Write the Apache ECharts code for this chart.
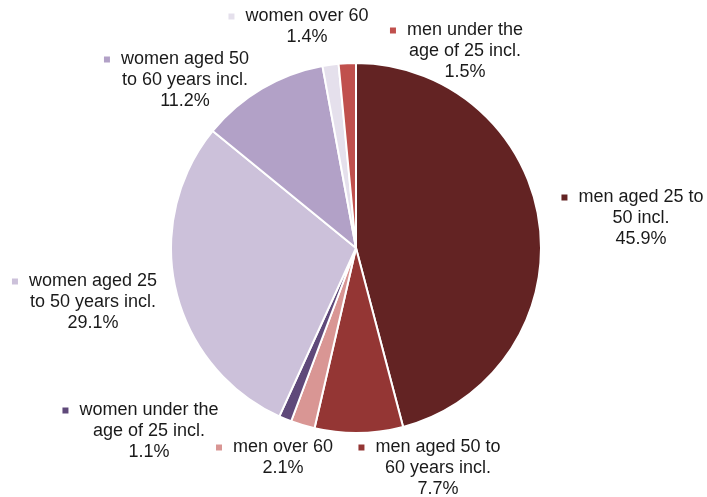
<!DOCTYPE html>
<html><head><meta charset="utf-8">
<script src="https://cdn.jsdelivr.net/npm/echarts@6/dist/echarts.min.js"></script>
<style>html,body{margin:0;padding:0;background:#fff}#c{width:707px;height:497px}</style>
</head><body><div id="c"></div>
<script>
const categories = [
  ["men aged 25 to", "50 incl."],
  ["men aged 50 to", "60 years incl."],
  ["men over 60"],
  ["women under the", "age of 25 incl."],
  ["women aged 25", "to 50 years incl."],
  ["women aged 50", "to 60 years incl."],
  ["women over 60"],
  ["men under the", "age of 25 incl."]
];
const values = [45.9, 7.7, 2.1, 1.1, 29.1, 11.2, 1.4, 1.5];
const colors = ["#632323", "#943634", "#d99694", "#5f497a", "#ccc1da", "#b2a1c7", "#e5e0ec", "#c0504d"];
// label anchor (center x, top y) for each slice
const labelPos = [[641, 187], [438, 437], [283, 437], [149, 400], [93, 271], [185, 49], [307, 6], [465, 20]];

const chart = echarts.init(document.getElementById('c'));
const data = values.map((v, i) => ({
  name: categories[i].join(' '),
  value: v,
  itemStyle: { color: colors[i] },
  label: {
    formatter: () => {
      const l = categories[i];
      let s = '{m' + i + '|}{g|}{t|' + l[0] + '}{p|}';
      for (let k = 1; k < l.length; k++) s += '\n{t|' + l[k] + '}';
      s += '\n{t|' + v.toFixed(1) + '%}';
      return s;
    }
  }
}));
const rich = {
  t: { fontSize: 18, fontFamily: 'Liberation Sans, Arial, sans-serif', color: '#1a1a1a', lineHeight: 21 },
  g: { width: 11 },
  p: { width: 17 }
};
colors.forEach((c, i) => { rich['m' + i] = { width: 6, height: 6, backgroundColor: c, verticalAlign: 'middle' }; });

chart.setOption({
  animation: false,
  series: [{
    type: 'pie',
    center: [356, 248],
    radius: 185,
    startAngle: 90,
    clockwise: true,
    data: data,
    itemStyle: { borderColor: '#fff', borderWidth: 2 },
    label: { show: true, position: 'outside', align: 'center', overflow: 'none', rich: rich, lineHeight: 21 },
    labelLine: { show: false },
    labelLayout: (p) => ({ x: labelPos[p.dataIndex][0], y: labelPos[p.dataIndex][1], align: 'center', verticalAlign: 'top' })
  }]
});
</script></body></html>
